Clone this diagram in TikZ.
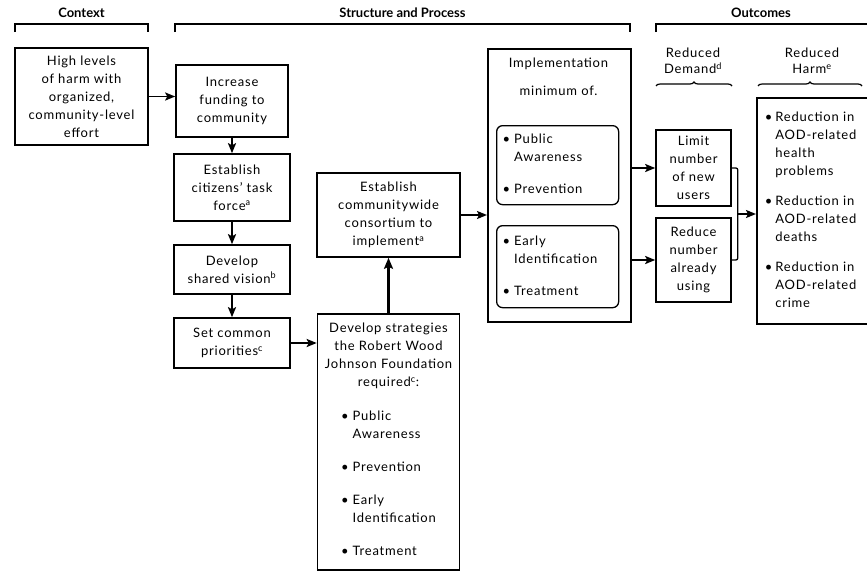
\documentclass[tikz,border=0pt]{standalone}
\usepackage{fontspec}
\setmainfont{Lato}[LetterSpace=6]
\newfontfamily\headfont{Lato}[BoldFont=Lato Bold]
\usetikzlibrary{arrows.meta,decorations.pathreplacing,calc}

\newcommand\bodyfs{\fontsize{13}{18}\selectfont}
\newcommand\labfs{\fontsize{13}{15.5}\selectfont}
\newcommand\hdrfs{\headfont\bfseries\fontsize{13}{15}\selectfont}

\begin{document}
\begin{tikzpicture}[x=1pt,y=-1pt,
  box/.style={draw, line width=1.6pt, align=center, inner sep=0pt, font=\bodyfs},
  inbox/.style={draw, line width=1.3pt, rounded corners=6pt, align=left,
    inner xsep=6pt, inner ysep=0pt, text width=110pt, font=\bodyfs},
  txt/.style={inner sep=0pt, align=center, font=\bodyfs},
  lab/.style={inner sep=0pt, align=center, font=\labfs},
  hdr/.style={inner sep=0pt, font=\hdrfs},
  brk/.style={line width=1.3pt},
  brc/.style={line width=1.2pt, decorate, decoration={brace, amplitude=4pt}},
  arr/.style={line width=1.9pt, -{Stealth[length=10pt,width=8pt,inset=2pt]}},
  bigarr/.style={line width=3pt, -{Stealth[length=11pt,width=9pt,inset=2pt]}}
]
\useasboundingbox (0,0) rectangle (867,576);
\clip (0,0) rectangle (867,576);

% column headings with their brackets
\node[hdr] (hctx) at (81.5,13) {Context};
\node[hdr] (hsp) at (402.5,13) {Structure and Process};
\node[hdr] (hout) at (761,13) {Outcomes};
\draw[brk] (15,32) -- (15,24) -- (148,24) -- (148,32);
\draw[brk] (175,32) -- (175,24) -- (630,24) -- (630,32);
\draw[brk] (656,32) -- (656,24) -- (880,24);

% context
\node[box, minimum width=133pt, minimum height=97pt] (ctx) at (81.5,96.5)
  {High levels\\of harm with\\organized,\\community-level\\effort};

% structure and process: left chain
\node[box, minimum width=112pt, minimum height=72pt] (inc) at (232,101)
  {Increase\\funding to\\community};
\node[box, minimum width=116pt, minimum height=67pt] (cit) at (232,187.5)
  {Establish\\citizens’ task\\force\textsuperscript{a}};
\node[box, minimum width=116pt, minimum height=49pt] (vis) at (232,269.5)
  {Develop\\shared vision\textsuperscript{b}};
\node[box, minimum width=116pt, minimum height=50pt] (pri) at (232,343)
  {Set common\\priorities\textsuperscript{c}};

% consortium and required strategies
\node[box, minimum width=143pt, minimum height=84pt] (con) at (388.5,215)
  {Establish\\communitywide\\consortium to\\implement\textsuperscript{a}};
\node[box, minimum width=142pt, minimum height=256pt, anchor=north] (str) at (388.5,313)
  {Develop strategies\\the Robert Wood\\Johnson Foundation\\required\textsuperscript{c}:\\[16pt]
   \begin{tabular}[t]{@{}l@{\hspace{4pt}}l@{}}
   \textbullet & Public\\ & Awareness\\[15pt]
   \textbullet & Prevention\\[15pt]
   \textbullet & Early\\ & Identification\\[15pt]
   \textbullet & Treatment
   \end{tabular}};

% implementation
\node[box, minimum width=143pt, minimum height=273pt, anchor=north west] (impl) at (487,48) {};
\node[txt, anchor=base] (implt) at (558.5,67) {Implementation};
\node[txt, anchor=base] (implm) at (558.5,95) {minimum of.};
\node[inbox, minimum height=79pt, anchor=north west] (aw) at (496,125)
  {\noindent\begin{tabular}{@{}l@{\hspace{4pt}}l@{}}
   \textbullet & Public\\ & Awareness\\[14pt]
   \textbullet & Prevention
   \end{tabular}};
\node[inbox, minimum height=82pt, anchor=north west] (ei) at (496,225)
  {\noindent\begin{tabular}{@{}l@{\hspace{4pt}}l@{}}
   \textbullet & Early\\ & Identification\\[14pt]
   \textbullet & Treatment
   \end{tabular}};

% outcomes
\node[lab] (rdem) at (693,61) {Reduced\\Demand\textsuperscript{d}};
\node[lab] (rharm) at (812,61) {Reduced\\Harm\textsuperscript{e}};
\draw[brc] (656,86) -- (732,86);
\draw[brc] (758,86) -- (862,86);

\node[box, minimum width=75pt, minimum height=76pt] (lim) at (693.5,168)
  {Limit\\number\\of new\\users};
\node[box, minimum width=75pt, minimum height=84pt] (red) at (693.5,260)
  {Reduce\\number\\already\\using};
\node[box, align=left, inner xsep=8pt, text width=112pt, minimum height=226pt,
  anchor=north west] (harm) at (756,97)
  {\noindent\begin{tabular}{@{}l@{\hspace{3pt}}l@{}}
   \textbullet & Reduction in\\ & AOD-related\\ & health\\ & problems\\[12pt]
   \textbullet & Reduction in\\ & AOD-related\\ & deaths\\[12pt]
   \textbullet & Reduction in\\ & AOD-related\\ & crime
   \end{tabular}};

% connectors
\draw[arr] (ctx.east) -- (ctx.east -| inc.west);
\draw[arr] (inc.south) -- (cit.north);
\draw[arr] (cit.south) -- (vis.north);
\draw[arr] (vis.south) -- (pri.north);
\draw[arr] (pri.east) -- (pri.east -| str.west);
\draw[bigarr] (str.north) -- (con.south);
\draw[arr] (con.east) -- (con.east -| impl.west);
\draw[arr] (impl.east |- lim.west) -- (lim.west);
\draw[arr] (impl.east |- red.west) -- (red.west);
\draw[brk, rounded corners=2pt] (lim.east) -- ++(6,0) |- (red.east);
\coordinate (jn) at ($(lim.east)!0.5!(red.east)+(6,0)$);
\draw[arr] (jn) -- (jn -| harm.west);
\end{tikzpicture}
\end{document}
